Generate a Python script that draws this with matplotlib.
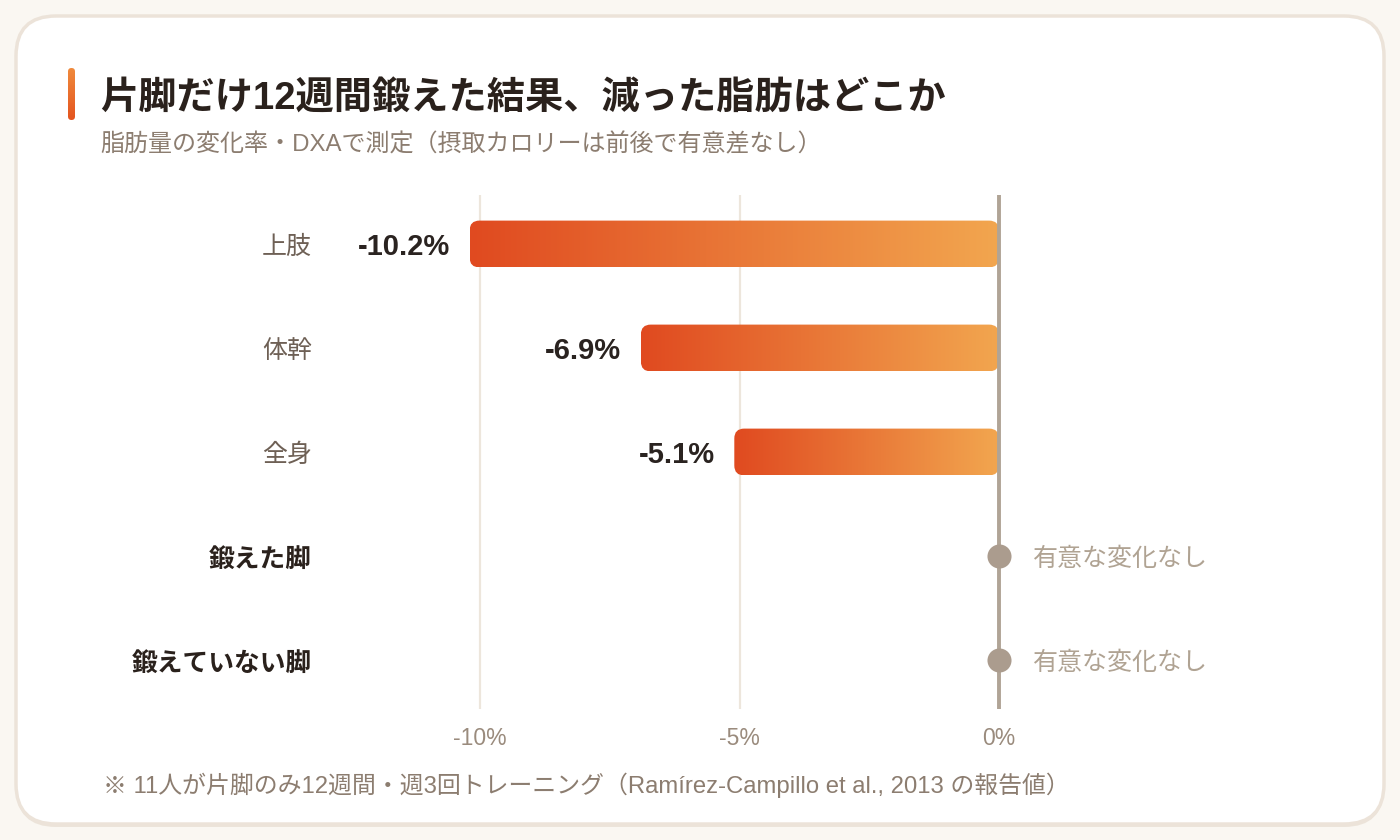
import numpy as np
import matplotlib.pyplot as plt
from matplotlib.patches import FancyBboxPatch
from matplotlib.colors import LinearSegmentedColormap

# 欧文はLiberation Sans、和文はNoto Sans CJK JPにフォールバック
plt.rcParams['font.family'] = ['Liberation Sans', 'Noto Sans CJK JP', 'DejaVu Sans']
JP = ['Noto Sans CJK JP', 'DejaVu Sans']

# データ
categories = ["上肢", "体幹", "全身", "鍛えた脚", "鍛えていない脚"]
values = [-10.2, -6.9, -5.1, None, None]
value_labels = ["-10.2%", "-6.9%", "-5.1%", "", ""]
no_change_label = "有意な変化なし"
tick_values = [-10, -5, 0]
tick_labels = ["-10%", "-5%", "0%"]

title = "片脚だけ12週間鍛えた結果、減った脂肪はどこか"
subtitle = "脂肪量の変化率・DXAで測定（摂取カロリーは前後で有意差なし）"
footnote = "※ 11人が片脚のみ12週間・週3回トレーニング（Ramírez-Campillo et al., 2013 の報告値）"

W, H = 1400, 840
fig = plt.figure(figsize=(W / 100, H / 100), dpi=100, facecolor="#faf7f2")

# 背景カード
bg = fig.add_axes([0, 0, 1, 1])
bg.set_xlim(0, W)
bg.set_ylim(H, 0)
bg.axis("off")
shadow = FancyBboxPatch((16, 19), 1368, 808, boxstyle="round,pad=0,rounding_size=40",
                        fc="#ece4da", ec="none")
bg.add_patch(shadow)
card = FancyBboxPatch((16, 16), 1368, 808, boxstyle="round,pad=0,rounding_size=40",
                      fc="white", ec="#ece3d9", lw=2.5)
bg.add_patch(card)

# タイトル横のアクセント
accent = FancyBboxPatch((68, 68), 7, 52, boxstyle="round,pad=0,rounding_size=3.5",
                        fc="none", ec="none")
bg.add_patch(accent)
acmap = LinearSegmentedColormap.from_list("acc", ["#f08a3c", "#e4541f"])
im = bg.imshow(np.linspace(0, 1, 64).reshape(-1, 1), cmap=acmap, aspect="auto",
               extent=[68, 75, 120, 68], zorder=3)
im.set_clip_path(accent)

bg.text(100, 100, title, fontsize=27.5, fontweight="bold", color="#2a211c", va="center")
bg.text(100, 145, subtitle, fontsize=17.3, color="#8c7d70", va="center")
bg.text(103, 785, footnote, fontsize=17.2, color="#8c7d70", va="center")

# メインの軸
px_per_unit = 51.9
x0_px = 999
left_px, right_px = 330, 1340
top_px, bottom_px = 192, 712
ax = fig.add_axes([left_px / W, 1 - bottom_px / H, (right_px - left_px) / W,
                   (bottom_px - top_px) / H])
ax.set_facecolor("none")
for s in ax.spines.values():
    s.set_visible(False)

ax.vlines([-10, -5], -0.47, len(categories) - 0.53, color="#ede6dc", lw=1.6, zorder=1)
ax.vlines(0, -0.47, len(categories) - 0.53, color="#b0a496", lw=2.8, zorder=4)

bar_h = 0.45
aspect = (1 / 104) / (1 / px_per_unit)
cmap = LinearSegmentedColormap.from_list("bar", ["#e04a20", "#f2a64f"])
grad = np.linspace(0, 1, 256).reshape(1, -1)

for i, v in enumerate(values):
    if v is None:
        ax.scatter(0, i, s=300, color="#ab9c8e", zorder=5, linewidths=0)
        ax.annotate(no_change_label, (0, i), xytext=(24.5, -2.5), textcoords="offset points",
                    fontsize=18, color="#b0a393", va="center", ha="left", family=JP)
        continue
    patch = FancyBboxPatch((v, i - bar_h / 2), -v, bar_h,
                           boxstyle="round,pad=0,rounding_size=0.19",
                           mutation_aspect=aspect, fc="none", ec="none")
    ax.add_patch(patch)
    bim = ax.imshow(grad, cmap=cmap, aspect="auto",
                    extent=[v, 0, i + bar_h / 2, i - bar_h / 2], zorder=3)
    bim.set_clip_path(patch)
    ax.annotate(value_labels[i], (v, i), xytext=(-14, -2.2), textcoords="offset points",
                fontsize=21, fontweight="bold", color="#2a2320", va="center", ha="right")

ax.set_xlim((left_px - x0_px) / px_per_unit, (right_px - x0_px) / px_per_unit)
ax.set_ylim(len(categories) - 0.5, -0.5)

ax.set_xticks(tick_values)
ax.set_xticklabels(tick_labels, fontsize=16.5, color="#9a8b7d")
ax.set_yticks(range(len(categories)))
ax.set_yticklabels(categories, fontsize=18, family=JP)
for lbl, v in zip(ax.get_yticklabels(), values):
    if v is None:
        lbl.set_fontweight("bold")
        lbl.set_fontsize(18.5)
        lbl.set_color("#2a211c")
    else:
        lbl.set_color("#6e6055")
ax.tick_params(axis="both", length=0)
ax.tick_params(axis="x", pad=11)
ax.tick_params(axis="y", pad=13)

fig.savefig("out.png", dpi=100, facecolor=fig.get_facecolor())
